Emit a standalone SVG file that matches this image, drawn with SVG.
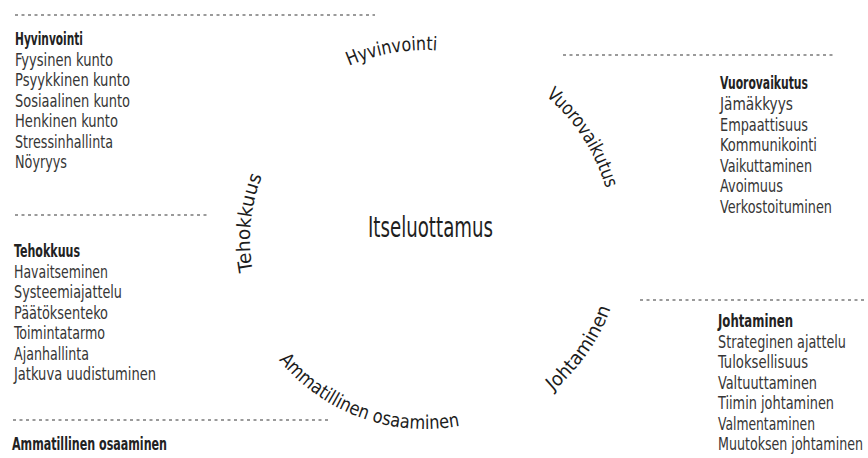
<svg xmlns="http://www.w3.org/2000/svg" width="868" height="458" viewBox="0 0 868 458">
<style>
text{font-family:"Liberation Sans Narrow","DejaVu Sans Condensed","Liberation Sans",sans-serif;}
.t{font-size:18px;font-weight:bold;fill:#222;}
.i{font-size:18px;fill:#363636;}
.arc{font-size:19px;fill:#1c1c1c;}
.c{font-size:29px;fill:#1e1e1e;}
.sep{stroke:#7a7a7a;stroke-width:1.6;stroke-dasharray:3 3.5;fill:none;}
</style>
<defs>
<path id="pHyv" d="M302.9,94.5 A190,190 0 0 1 490.0,61.5"/>
<path id="pVuo" d="M510.4,72.5 A188,188 0 0 1 612.7,230.2"/>
<path id="pTeh" d="M272.6,326.0 A175,175 0 0 1 292.1,126.0"/>
<path id="pJoh" d="M508.7,419.5 A198,198 0 0 0 622.2,257.3"/>
<path id="pAmm" d="M261.3,334.5 A189,189 0 0 0 489.6,417.6"/>
</defs>
<rect width="868" height="458" fill="#ffffff"/>
<g id="separators">
<line class="sep" x1="15" y1="15" x2="375" y2="15"/>
<line class="sep" x1="15" y1="215" x2="210" y2="215"/>
<line class="sep" x1="13" y1="420" x2="328" y2="420"/>
<line class="sep" x1="563" y1="55" x2="833" y2="55"/>
<line class="sep" x1="640" y1="300" x2="866" y2="300"/>
</g>
<g id="center">
<text class="c" x="368" y="237" textLength="125" lengthAdjust="spacingAndGlyphs">Itseluottamus</text>
</g>
<g id="ring">
<text class="arc"><textPath href="#pHyv" startOffset="50%" text-anchor="middle" textLength="90" lengthAdjust="spacingAndGlyphs">Hyvinvointi</textPath></text>
<text class="arc"><textPath href="#pVuo" startOffset="50%" text-anchor="middle" textLength="112" lengthAdjust="spacingAndGlyphs">Vuorovaikutus</textPath></text>
<text class="arc"><textPath href="#pTeh" startOffset="50%" text-anchor="middle" textLength="97" lengthAdjust="spacingAndGlyphs">Tehokkuus</textPath></text>
<text class="arc"><textPath href="#pJoh" startOffset="50%" text-anchor="middle" textLength="102" lengthAdjust="spacingAndGlyphs">Johtaminen</textPath></text>
<text class="arc"><textPath href="#pAmm" startOffset="50%" text-anchor="middle" textLength="202" lengthAdjust="spacingAndGlyphs">Ammatillinen osaaminen</textPath></text>
</g>
<g id="hyvinvointi">
<text class="t" x="15" y="45" textLength="68" lengthAdjust="spacingAndGlyphs">Hyvinvointi</text>
<text class="i" x="15" y="65.5" textLength="98" lengthAdjust="spacingAndGlyphs">Fyysinen kunto</text>
<text class="i" x="15" y="86" textLength="115" lengthAdjust="spacingAndGlyphs">Psyykkinen kunto</text>
<text class="i" x="15" y="106.5" textLength="115" lengthAdjust="spacingAndGlyphs">Sosiaalinen kunto</text>
<text class="i" x="15" y="127" textLength="103" lengthAdjust="spacingAndGlyphs">Henkinen kunto</text>
<text class="i" x="15" y="147.5" textLength="98" lengthAdjust="spacingAndGlyphs">Stressinhallinta</text>
<text class="i" x="15" y="168" textLength="52" lengthAdjust="spacingAndGlyphs">Nöyryys</text>
</g>
<g id="tehokkuus">
<text class="t" x="14" y="257" textLength="66" lengthAdjust="spacingAndGlyphs">Tehokkuus</text>
<text class="i" x="14" y="277.5" textLength="94" lengthAdjust="spacingAndGlyphs">Havaitseminen</text>
<text class="i" x="14" y="298" textLength="108" lengthAdjust="spacingAndGlyphs">Systeemiajattelu</text>
<text class="i" x="14" y="318.5" textLength="94" lengthAdjust="spacingAndGlyphs">Päätöksenteko</text>
<text class="i" x="14" y="339" textLength="91" lengthAdjust="spacingAndGlyphs">Toimintatarmo</text>
<text class="i" x="14" y="359.5" textLength="75" lengthAdjust="spacingAndGlyphs">Ajanhallinta</text>
<text class="i" x="14" y="380" textLength="142" lengthAdjust="spacingAndGlyphs">Jatkuva uudistuminen</text>
</g>
<g id="ammatillinen">
<text class="t" x="12" y="450" textLength="155" lengthAdjust="spacingAndGlyphs">Ammatillinen osaaminen</text>
</g>
<g id="vuorovaikutus">
<text class="t" x="720" y="89" textLength="88" lengthAdjust="spacingAndGlyphs">Vuorovaikutus</text>
<text class="i" x="720" y="110" textLength="73" lengthAdjust="spacingAndGlyphs">Jämäkkyys</text>
<text class="i" x="720" y="130.5" textLength="88" lengthAdjust="spacingAndGlyphs">Empaattisuus</text>
<text class="i" x="720" y="151" textLength="97" lengthAdjust="spacingAndGlyphs">Kommunikointi</text>
<text class="i" x="720" y="171.5" textLength="92" lengthAdjust="spacingAndGlyphs">Vaikuttaminen</text>
<text class="i" x="720" y="192" textLength="63" lengthAdjust="spacingAndGlyphs">Avoimuus</text>
<text class="i" x="720" y="212.5" textLength="112" lengthAdjust="spacingAndGlyphs">Verkostoituminen</text>
</g>
<g id="johtaminen">
<text class="t" x="718" y="327" textLength="75" lengthAdjust="spacingAndGlyphs">Johtaminen</text>
<text class="i" x="846" y="347.5" text-anchor="end" textLength="128" lengthAdjust="spacingAndGlyphs">Strateginen ajattelu</text>
<text class="i" x="718" y="368" textLength="90" lengthAdjust="spacingAndGlyphs">Tuloksellisuus</text>
<text class="i" x="718" y="388.5" textLength="99" lengthAdjust="spacingAndGlyphs">Valtuuttaminen</text>
<text class="i" x="718" y="409" textLength="116" lengthAdjust="spacingAndGlyphs">Tiimin johtaminen</text>
<text class="i" x="718" y="429.5" textLength="97" lengthAdjust="spacingAndGlyphs">Valmentaminen</text>
<text class="i" x="863" y="450" text-anchor="end" textLength="145" lengthAdjust="spacingAndGlyphs">Muutoksen johtaminen</text>
</g>
</svg>
